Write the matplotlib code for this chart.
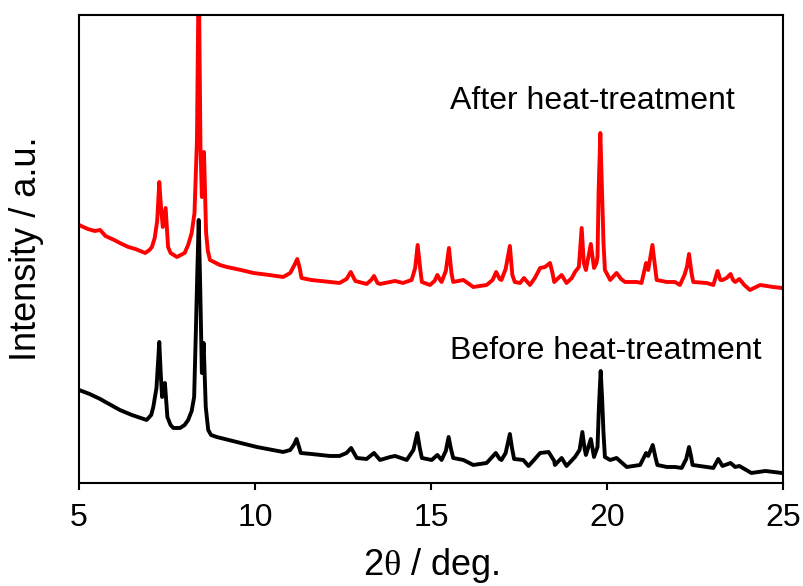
import matplotlib as mpl
mpl.use('Agg')
import matplotlib.pyplot as plt

plt.rcParams['font.family'] = ['Liberation Sans', 'DejaVu Sans']
plt.rcParams['mathtext.fontset'] = 'custom'
plt.rcParams['mathtext.rm'] = 'Liberation Serif'
plt.rcParams['mathtext.it'] = 'Liberation Serif'

after_x = [5.00, 5.25, 5.45, 5.60, 5.75, 6.00, 6.16, 6.40, 6.60, 6.88, 7.00,
           7.07, 7.15, 7.22, 7.28, 7.33, 7.38, 7.46, 7.53, 7.60, 7.78, 8.00,
           8.10, 8.20, 8.28, 8.32, 8.35, 8.40, 8.45, 8.49, 8.55, 8.61, 8.66,
           8.72, 9.00, 9.20, 9.60, 9.95, 10.40, 10.80, 11.00, 11.12, 11.20,
           11.27, 11.32, 11.60, 12.13, 12.40, 12.60, 12.72, 12.85, 13.17,
           13.30, 13.38, 13.48, 13.55, 13.84, 13.98, 14.20, 14.45, 14.55,
           14.62, 14.70, 14.74, 14.97, 15.10, 15.18, 15.26, 15.30, 15.42,
           15.51, 15.58, 15.63, 15.92, 16.20, 16.58, 16.75, 16.85, 16.95,
           17.00, 17.12, 17.24, 17.31, 17.38, 17.53, 17.64, 17.81, 17.95,
           18.10, 18.24, 18.38, 18.45, 18.50, 18.71, 18.85, 19.00, 19.09,
           19.20, 19.28, 19.34, 19.40, 19.54, 19.63, 19.70, 19.73, 19.76,
           19.81, 19.86, 19.90, 19.94, 20.09, 20.27, 20.40, 20.51, 20.84,
           20.98, 21.11, 21.17, 21.29, 21.36, 21.41, 21.70, 21.93, 22.07,
           22.20, 22.27, 22.33, 22.40, 22.45, 22.83, 23.02, 23.14, 23.22,
           23.28, 23.40, 23.51, 23.58, 23.64, 23.76, 23.90, 24.06, 24.35,
           24.72, 24.97]
after_y = [258, 254, 252, 253, 247, 243, 240, 236, 234, 230, 233,
           236, 245, 262, 301, 275, 256, 275, 236, 230, 226, 230,
           238, 250, 270, 310, 343, 520, 336, 286, 331, 250, 232,
           223, 218, 216, 213, 210, 208, 206, 210, 218, 224,
           215, 205, 203, 201, 200, 204, 211, 202, 199,
           203, 207, 200, 199, 201, 202, 200, 203, 215,
           238, 212, 201, 198, 202, 208, 203, 201, 212,
           235, 210, 201, 203, 196, 198, 203, 211, 204,
           203, 214, 237, 208, 201, 200, 205, 198, 205,
           215, 216, 220, 210, 201, 208, 200, 205, 211,
           216, 255, 220, 213, 239, 215, 220, 226, 290,
           350, 290, 240, 213, 203, 210, 204, 201, 201,
           200, 220, 213, 238, 218, 203, 201, 201, 198,
           208, 216, 229, 210, 201, 200, 198, 212, 203,
           203, 205, 209, 203, 201, 204, 198, 193, 198,
           196, 195]

before_x = [5.00, 5.30, 5.60, 5.75, 6.16, 6.50, 6.92, 7.05, 7.11, 7.20, 7.28,
            7.32, 7.36, 7.44, 7.51, 7.60, 7.68, 7.87, 8.00, 8.10, 8.20, 8.27,
            8.32, 8.36, 8.40, 8.44, 8.49, 8.54, 8.60, 8.67, 8.75, 8.91, 9.48,
            10.05, 10.80, 11.00, 11.10, 11.18, 11.25, 11.30, 11.60, 12.13,
            12.40, 12.60, 12.73, 12.89, 13.17, 13.38, 13.55, 13.84, 13.98,
            14.31, 14.50, 14.61, 14.68, 14.74, 15.02, 15.18, 15.30, 15.42,
            15.50, 15.56, 15.63, 15.92, 16.20, 16.58, 16.84, 16.95, 17.00,
            17.12, 17.24, 17.30, 17.36, 17.62, 17.77, 17.95, 18.10, 18.34,
            18.50, 18.52, 18.71, 18.85, 19.09, 19.22, 19.30, 19.36, 19.40,
            19.54, 19.63, 19.73, 19.77, 19.82, 19.86, 19.90, 19.94, 20.09,
            20.27, 20.56, 20.94, 21.11, 21.17, 21.30, 21.38, 21.43, 21.70,
            21.93, 22.12, 22.25, 22.33, 22.38, 22.43, 22.83, 23.02, 23.16,
            23.28, 23.51, 23.64, 23.76, 24.10, 24.50, 24.97]
before_y = [93, 89, 84, 81, 73, 68, 63, 68, 76, 95, 141,
            110, 86, 100, 66, 58, 55, 55, 58, 63, 72, 86,
            153, 210, 263, 200, 110, 140, 76, 53, 48, 46, 41,
            36, 31, 33, 38, 44, 36, 30, 29, 27,
            27, 30, 35, 25, 24, 30, 23, 26, 27,
            23, 33, 50, 35, 25, 23, 28, 23, 32,
            46, 35, 25, 23, 18, 20, 30, 24, 23,
            30, 49, 35, 24, 23, 17, 24, 30, 31,
            22, 18, 25, 17, 26, 33, 51, 35, 28,
            44, 26, 36, 76, 112, 85, 50, 26, 23,
            25, 16, 18, 30, 27, 38, 25, 18, 16,
            16, 15, 24, 36, 28, 18, 16, 15, 24,
            17, 20, 16, 17, 10, 12, 10]

labels = ['After heat-treatment', 'Before heat-treatment']
label_y = [374, 124]
xticks = [5, 10, 15, 20, 25]

fig = plt.figure(figsize=(8.04, 5.86), dpi=100)
ax = fig.add_axes([0.0983, 0.1758, 0.8756, 0.7986])

ax.plot(after_x, after_y, color='#ff0000', lw=2.8)
ax.plot(before_x, before_y, color='black', lw=2.8)

for txt, yy in zip(labels, label_y):
    ax.text(15.54, yy, txt, fontsize=23, ha='left', va='baseline')

ax.set_xlim(5, 25)
ax.set_ylim(0, 468)
ax.set_xticks(xticks)
ax.set_yticks([])
ax.tick_params(axis='x', direction='out', length=5, width=1.5,
               labelsize=23, pad=9.5)
for sp in ax.spines.values():
    sp.set_linewidth(1.5)

ax.set_xlabel(r'2$\mathrm{\theta}$ / deg.', fontsize=26, labelpad=9)
ax.set_ylabel('Intensity / a.u.', fontsize=26, labelpad=25)

plt.savefig('out.png', dpi=100)
